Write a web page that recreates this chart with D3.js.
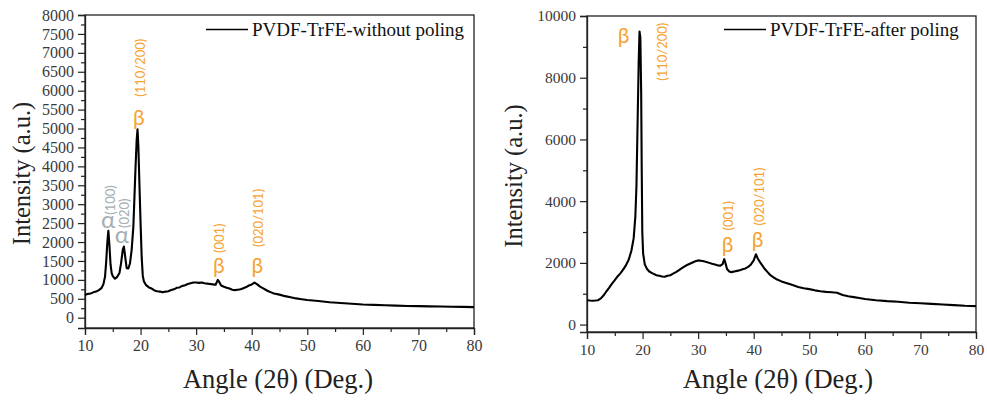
<!DOCTYPE html>
<html>
<head>
<meta charset="utf-8">
<script src="https://cdn.jsdelivr.net/npm/d3@7"></script>
<style>
body{margin:0;background:#fff}
svg{display:block}
text{font-family:"Liberation Serif","Times New Roman",serif}
text.peak-label{font-family:Lato,"Noto Sans",sans-serif}
</style>
</head>
<body>
<div id="chart"></div>
<script>
// ---- data ----
var angleA = [10,10.5,11,11.5,12,12.5,13,13.3,13.6,13.8,14,14.2,14.4,14.6,14.8,15,15.4,15.8,16.2,16.5,16.8,17,17.2,17.5,17.8,18.1,18.4,18.7,18.9,19.1,19.3,19.45,19.6,19.8,20,20.2,20.4,20.6,21,21.5,22,22.5,23,23.5,24,24.5,25,25.5,26,26.5,27,27.5,28,28.5,29,29.5,30,30.5,31,31.5,32,32.5,33,33.5,33.9,34.1,34.5,35,35.5,36,36.5,37,37.5,38,38.5,39,39.5,40,40.5,41,41.5,42,42.5,43,43.5,44,45,46,47,48,49,50,52,54,56,58,60,62,64,66,68,70,72,74,76,78,80];
var countsA = [600,630,640,670,690,730,790,880,1080,1450,1950,2300,1900,1400,1180,1100,1030,1080,1180,1450,1800,1880,1650,1310,1300,1440,1800,2400,3200,4000,4700,4980,4550,3500,2500,1600,1100,960,860,800,770,720,700,690,670,690,700,730,750,790,800,840,860,890,910,930,930,920,930,910,900,890,880,870,1000,960,850,820,790,770,740,730,740,750,780,810,850,880,930,880,820,780,740,700,670,640,610,570,540,510,490,470,440,410,390,370,350,340,330,320,310,305,300,295,290,285,280];

var angleB = [10,10.5,11,11.5,12,12.5,13,13.5,14,14.5,15,15.5,16,16.5,17,17.5,18,18.4,18.7,18.9,19.1,19.3,19.45,19.6,19.75,19.85,19.95,20.1,20.4,20.8,21.2,21.8,22.5,23,23.5,24,24.5,25,25.5,26,26.5,27,27.5,28,28.5,29,29.5,30,30.5,31,31.5,32,32.5,33,33.5,34,34.4,34.7,34.9,35.2,35.6,36,36.5,37,37.5,38,38.5,39,39.5,40,40.4,40.7,41.1,41.6,42,42.5,43,43.5,44,45,46,47,48,49,50,51,52,53,54,55,56,57,58,59,60,62,64,66,68,70,72,74,76,78,80];
var countsB = [790,780,775,780,790,850,950,1080,1200,1330,1440,1560,1660,1780,1920,2100,2400,2800,3500,4500,6500,8500,9500,9300,7500,5000,3000,2300,1950,1800,1720,1660,1600,1580,1560,1550,1580,1600,1650,1700,1760,1820,1880,1930,1970,2010,2050,2080,2070,2050,2030,2000,1970,1950,1920,1910,1960,2120,2000,1800,1720,1700,1720,1740,1760,1790,1820,1870,1950,2080,2280,2150,2030,1900,1800,1700,1600,1540,1480,1400,1340,1280,1220,1180,1150,1110,1080,1060,1050,1030,960,920,890,860,830,790,760,740,710,690,670,650,630,610,600];

var xTickValues = [10,20,30,40,50,60,70,80];
var yTicksA = [0,500,1000,1500,2000,2500,3000,3500,4000,4500,5000,5500,6000,6500,7000,7500,8000];
var yTicksB = [0,2000,4000,6000,8000,10000];

var seriesNames = ["PVDF-TrFE-without poling", "PVDF-TrFE-after poling"];

// peak labels: symbol anchor (sx, sy) and rotated hkl anchor (lx, ly), in data units
var peaksA = [
  {sym:"α", hkl:"(100)", kind:"alpha", sx:14.15, sy:2370, lx:15.35, ly:2720},
  {sym:"α", hkl:"(020)", kind:"alpha", sx:16.65, sy:1970, lx:17.9, ly:2370},
  {sym:"β", hkl:"(110/200)", kind:"beta", sx:19.7, sy:5094, lx:20.8, ly:5840},
  {sym:"β", hkl:"(001)", kind:"beta", sx:34.1, sy:1180, lx:35.0, ly:1710},
  {sym:"β", hkl:"(020/101)", kind:"beta", sx:41.0, sy:1180, lx:42.0, ly:1870}
];
var peaksB = [
  {sym:"β", hkl:"(110/200)", kind:"beta", sx:16.6, sy:9135, lx:24.4, ly:7900},
  {sym:"β", hkl:"(001)", kind:"beta", sx:35.3, sy:2340, lx:36.3, ly:3050},
  {sym:"β", hkl:"(020/101)", kind:"beta", sx:40.7, sy:2500, lx:41.85, ly:3210}
];

// ---- drawing ----
var width = 987, height = 405;
var colors = {beta:"#f7a334", alpha:"#a3aeb3"};

var svg = d3.select("#chart").append("svg")
  .attr("width", width)
  .attr("height", height);

var panels = [
  {angle:angleA, counts:countsA, ticks:yTicksA, minor:250, name:seriesNames[0], peaks:peaksA,
   x0:85, x1:474, yTop:15, yBot:328, yMin:-272, yMax:8000, font:16,
   legX:206, titleY:22, titleX:278},
  {angle:angleB, counts:countsB, ticks:yTicksB, minor:1000, name:seriesNames[1], peaks:peaksB,
   x0:587, x1:976, yTop:16, yBot:332, yMin:-240, yMax:10000, font:15.5,
   legX:724, titleY:514, titleX:778}
];

panels.forEach(function(p){
  var x = d3.scaleLinear().domain([10, 80]).range([p.x0, p.x1]);
  var y = d3.scaleLinear().domain([p.yMin, p.yMax]).range([p.yBot, p.yTop]);
  var g = svg.append("g");

  // frame
  g.append("rect")
    .attr("x", p.x0).attr("y", p.yTop)
    .attr("width", p.x1 - p.x0).attr("height", p.yBot - p.yTop)
    .attr("fill", "none").attr("stroke", "#222").attr("stroke-width", 1.3);

  // x axis
  var xMinor = d3.range(15, 80, 10);
  g.append("g").attr("transform", "translate(0," + p.yBot + ")")
    .call(d3.axisBottom(x).tickValues(xMinor).tickSize(4).tickFormat(""))
    .call(function(a){ a.select(".domain").remove(); });
  var xa = g.append("g").attr("transform", "translate(0," + p.yBot + ")")
    .call(d3.axisBottom(x).tickValues(xTickValues).tickSize(7).tickPadding(5));
  xa.select(".domain").attr("stroke", "#222").attr("stroke-width", 1.3);

  // y axis
  var yMinor = d3.range(p.minor, p.yMax, p.minor * 2);
  g.append("g").attr("transform", "translate(" + p.x0 + ",0)")
    .call(d3.axisLeft(y).tickValues(yMinor).tickSize(4).tickFormat(""))
    .call(function(a){ a.select(".domain").remove(); });
  var ya = g.append("g").attr("transform", "translate(" + p.x0 + ",0)")
    .call(d3.axisLeft(y).tickValues(p.ticks).tickSize(7).tickPadding(4).tickFormat(d3.format("d")));
  ya.select(".domain").attr("stroke", "#222").attr("stroke-width", 1.3);

  g.selectAll(".tick line").attr("stroke", "#222").attr("stroke-width", 1.2);
  g.selectAll(".tick text")
    .attr("font-size", p.font)
    .attr("fill", "#3a3a3a");

  // curve
  var pts = p.angle.map(function(a, i){ return [a, p.counts[i]]; });
  g.append("path")
    .datum(pts)
    .attr("d", d3.line().x(function(d){ return x(d[0]); }).y(function(d){ return y(d[1]); }))
    .attr("fill", "none")
    .attr("stroke", "#000")
    .attr("stroke-width", 2.1)
    .attr("stroke-linejoin", "round");

  // legend
  g.append("line")
    .attr("x1", p.legX).attr("x2", p.legX + 42)
    .attr("y1", 29.5).attr("y2", 29.5)
    .attr("stroke", "#000").attr("stroke-width", 1.5);
  g.append("text")
    .attr("x", p.legX + 46).attr("y", 36)
    .attr("font-size", 19)
    .attr("fill", "#111")
    .text(p.name);

  // axis titles
  g.append("text")
    .attr("transform", "translate(" + (p.titleY + 8) + "," + ((p.yTop + p.yBot) / 2 + 2) + ") rotate(-90)")
    .attr("text-anchor", "middle")
    .attr("font-size", 24.5)
    .attr("fill", "#222")
    .text("Intensity (a.u.)");
  g.append("text")
    .attr("x", p.titleX).attr("y", 388)
    .attr("text-anchor", "middle")
    .attr("font-size", 26.5)
    .attr("fill", "#222")
    .text("Angle (2θ) (Deg.)");

  // peak labels
  var lab = g.selectAll(".peak").data(p.peaks).enter().append("g");
  lab.append("text")
    .attr("class", "peak-label")
    .attr("x", function(d){ return x(d.sx); })
    .attr("y", function(d){ return y(d.sy); })
    .attr("text-anchor", "middle")
    .attr("font-size", function(d){ return d.kind === "alpha" ? 24 : 21; })
    .attr("fill", function(d){ return colors[d.kind]; })
    .text(function(d){ return d.sym; });
  lab.append("text")
    .attr("class", "peak-label")
    .attr("transform", function(d){ return "translate(" + x(d.lx) + "," + y(d.ly) + ") rotate(-90)"; })
    .attr("font-size", 13)
    .attr("fill", function(d){ return colors[d.kind]; })
    .text(function(d){ return d.hkl; });
});
</script>
</body>
</html>
